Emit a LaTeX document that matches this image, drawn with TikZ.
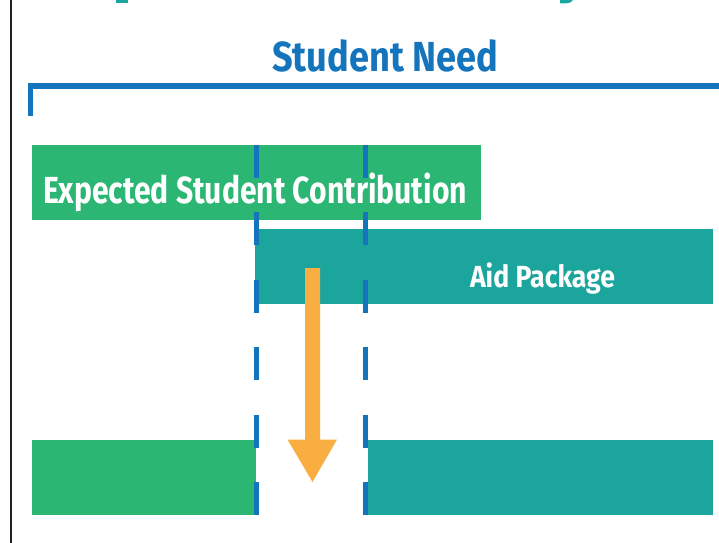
\documentclass[tikz,border=0pt]{standalone}
\usepackage{fontspec}
\usepackage{graphicx}
\newfontfamily\labelfont{Fira Sans}[UprightFont=* Bold]
\definecolor{needblue}{HTML}{1474BC}
\definecolor{escgreen}{HTML}{2BB673}
\definecolor{aidteal}{HTML}{1BA59D}
\definecolor{gaporange}{HTML}{F9AE41}
\definecolor{frameink}{HTML}{231F20}
\tikzset{
  bar/.style={draw=none, inner sep=0pt, outer sep=0pt, anchor=north west},
  label/.style={inner sep=0pt, outer sep=0pt, anchor=base west, text=white},
  divider/.style={needblue, line width=5pt, dash pattern=on 33pt off 34.4pt},
}
\begin{document}
\begin{tikzpicture}[x=1pt,y=-1pt]
\useasboundingbox (0,0) rectangle (719,542);
\clip (0,0) rectangle (719,542);
\fill[white] (0,0) rectangle (719,542);

% page rule on the left
\draw[frameink, line width=2.5pt] (10.8,-2) -- (10.8,545);

% descenders of the heading above
\fill[aidteal] (116,0) rectangle (128,3.2);
\fill[aidteal] (560,0) -- (573,0) .. controls (571,2.5) .. (566,3.4) -- (560,3.4) -- cycle;

% heading and bracket
\node[inner sep=0pt, anchor=base west, text=needblue] (need) at (272,71)
  {\resizebox{226pt}{\height}{\fontsize{42}{44}\labelfont Student Need}};
\draw[needblue, line width=5.5pt, line join=miter] (30.5,115.5) -- (30.5,86) -- (722,86);

% bars
\node[bar, fill=escgreen, minimum width=449pt, minimum height=75pt] (esc) at (32,145) {};
\node[bar, fill=aidteal, minimum width=458pt, minimum height=75pt] (aid) at (255,229) {};
\node[bar, fill=escgreen, minimum width=224pt, minimum height=75pt] (esclow) at (32,440) {};
\node[bar, fill=aidteal, minimum width=345pt, minimum height=75pt] (aidlow) at (368,440) {};

% dashed dividers
\coordinate (d1top) at (256.8,145);
\coordinate (d1bot) at (256.8,515);
\coordinate (d2top) at (365.6,145);
\coordinate (d2bot) at (365.6,515);
\draw[divider] (d1top) -- (d1bot);
\draw[divider] (d2top) -- (d2bot);

% bar labels
\node[label] (esctext) at (43,203)
  {\resizebox{424pt}{\height}{\fontsize{37.7}{40}\labelfont Expected Student Contribution}};
\node[label] (aidtext) at (470,287)
  {\resizebox{145pt}{\height}{\fontsize{30.5}{32}\labelfont Aid Package}};

% downward arrow into the gap
\coordinate (arrowstart) at (312.5,268);
\coordinate (arrowtip) at (312.5,482);
\fill[gaporange] (305,268) -- (320,268) -- (320,439.5) -- (337,439.5)
  -- (arrowtip) -- (287.5,439.5) -- (305,439.5) -- cycle;
\end{tikzpicture}
\end{document}
